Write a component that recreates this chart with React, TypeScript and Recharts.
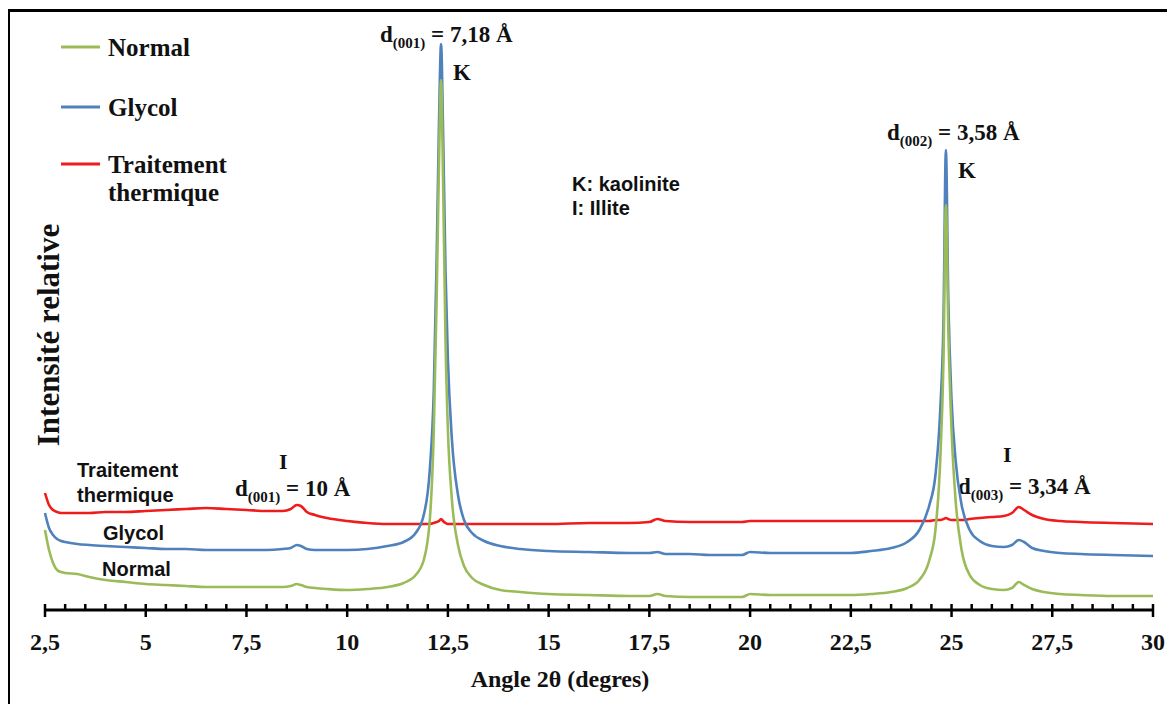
import React from 'react';
import { Customized, Line, LineChart, XAxis, YAxis } from 'recharts';

// angle 2θ (degrees), shared by all three patterns
const angles = [
    2.5, 2.6, 2.7, 2.8, 2.9, 3.0, 3.3, 3.6, 4.0, 4.5, 5.0, 5.5, 6.0, 6.5, 7.0, 7.5, 8.0, 8.4, 8.6, 8.75,
    8.85, 9.0, 9.2, 9.5, 10.0, 10.5, 11.0, 11.4, 11.7, 11.9, 12.05, 12.15, 12.22, 12.28, 12.33, 12.38, 12.44, 12.5,
    12.6, 12.75, 12.9, 13.1, 13.4, 13.8, 14.3, 15.0, 16.0, 17.0, 17.5, 17.7, 17.9, 18.5, 19.0, 19.5, 19.8, 20.0,
    20.5, 21.0, 21.5, 22.0, 22.5, 23.0, 23.5, 23.9, 24.2, 24.45, 24.6, 24.72, 24.8, 24.86, 24.92, 25.0, 25.1,
    25.25, 25.45, 25.7, 26.0, 26.3, 26.5, 26.67, 26.8, 27.0, 27.3, 27.7, 28.2, 29.0, 30.0,
];

const thermique = [
    117, 105, 100, 98, 97, 97, 97, 97, 98, 98, 99, 100, 101, 102, 101, 100, 99, 99, 101, 105,
    104, 98, 95, 92, 89, 87, 86, 86, 86, 86, 86, 87, 88, 89, 91, 89, 87, 86,
    86, 86, 86, 86, 86, 86, 86, 86, 87, 87, 88, 91, 89, 88, 88, 88, 88, 89,
    89, 89, 89, 89, 89, 89, 89, 89, 89, 89, 90, 90, 91, 92, 91, 90, 90,
    90, 91, 92, 93, 94, 97, 103, 100, 95, 91, 89, 88, 87, 86,
];

const glycol = [
    97, 82, 75, 71, 69, 68, 66, 65, 64, 63, 62, 61, 61, 60, 60, 60, 60, 61, 62, 65,
    64, 61, 60, 60, 60, 61, 64, 68, 77, 95, 140, 220, 350, 490, 566, 480, 340, 250,
    170, 115, 90, 77, 69, 64, 61, 59, 58, 57, 57, 58, 56, 56, 55, 55, 55, 58,
    57, 57, 57, 57, 57, 59, 62, 68, 80, 105, 135, 200, 290, 460, 310, 210, 150,
    105, 80, 69, 64, 63, 65, 70, 68, 62, 59, 57, 56, 55, 54,
];

const normal = [
    80, 60, 47, 40, 38, 37, 36, 33, 30, 28, 26, 25, 24, 23, 23, 23, 23, 23, 24, 26,
    25, 23, 22, 21, 20, 21, 23, 27, 35, 50, 90, 180, 310, 450, 530, 430, 270, 180,
    110, 65, 44, 32, 25, 20, 18, 16, 15, 14, 14, 16, 14, 13, 13, 13, 13, 16,
    15, 15, 15, 15, 15, 16, 18, 22, 30, 50, 80, 150, 250, 405, 280, 180, 110,
    60, 35, 25, 21, 20, 22, 28, 25, 21, 18, 16, 15, 14, 14,
];

const majorTicks = [2.5, 5, 7.5, 10, 12.5, 15, 17.5, 20, 22.5, 25, 27.5, 30];
// minor ticks every 0.5°
const allTicks = Array.from({ length: 56 }, (_, i) => 2.5 + i * 0.5);

const data = angles.map((a, i) => ({
    angle: a,
    normal: normal[i],
    glycol: glycol[i],
    thermique: thermique[i],
}));

const GREEN = '#9bbb59';
const BLUE = '#4f81bd';
const RED = '#ee1c1c';
const SERIF = '"Liberation Serif", "Times New Roman", serif';
const SANS = '"Liberation Sans", Arial, sans-serif';

const fmt = (v: number) => String(v).replace('.', ',');

const AxisTick = (props: any) => {
    const { x, y, payload } = props;
    const v = payload.value;
    const major = majorTicks.some(m => Math.abs(m - v) < 1e-6);
    return (
        <g>
            <line x1={x} x2={x} y1={y - 6} y2={major ? y + 7 : y} stroke="#000" strokeWidth={2.5} />
            {major && (
                <text x={x} y={y + 40} textAnchor="middle" fontFamily={SERIF} fontWeight="bold" fontSize={24} fill="#111">
                    {fmt(v)}
                </text>
            )}
        </g>
    );
};

// d-spacing label with subscript Miller index
const DLabel = ({ x, y, hkl, value, size = 23 }) => (
    <text x={x} y={y} fontFamily={SERIF} fontWeight="bold" fontSize={size} fill="#111">
        <tspan>d</tspan>
        <tspan fontSize={15} dy={6}>{`(${hkl})`}</tspan>
        <tspan dy={-6}>{` = ${value} Å`}</tspan>
    </text>
);

const Annotations = () => (
    <g>
        {/* legend */}
        <line x1={53} x2={92} y1={39} y2={39} stroke={GREEN} strokeWidth={3} />
        <line x1={53} x2={92} y1={99} y2={99} stroke={BLUE} strokeWidth={3} />
        <line x1={53} x2={92} y1={156} y2={156} stroke={RED} strokeWidth={3} />
        <g fontFamily={SERIF} fontWeight="bold" fontSize={25} fill="#111">
            <text x={100} y={48}>Normal</text>
            <text x={100} y={108}>Glycol</text>
            <text x={100} y={165}>Traitement</text>
            <text x={100} y={193}>thermique</text>
        </g>

        {/* y axis title */}
        <text x={51} y={327} transform="rotate(-90, 51, 327)" textAnchor="middle" fontFamily={SERIF} fontWeight="bold" fontSize={31} fill="#111">
            Intensité relative
        </text>

        {/* x axis title */}
        <text x={552} y={679} textAnchor="middle" fontFamily={SERIF} fontWeight="bold" fontSize={24} fill="#111">
            Angle 2θ (degres)
        </text>

        {/* peak labels */}
        <DLabel x={372} y={34} hkl="001" value="7,18" />
        <text x={445} y={72} fontFamily={SERIF} fontWeight="bold" fontSize={23} fill="#111">K</text>
        <DLabel x={879} y={132} hkl="002" value="3,58" />
        <text x={950} y={170} fontFamily={SERIF} fontWeight="bold" fontSize={23} fill="#111">K</text>
        <text x={271} y={461} fontFamily={SERIF} fontWeight="bold" fontSize={22} fill="#111">I</text>
        <DLabel x={227} y={488} hkl="001" value="10" />
        <text x={995} y={454} fontFamily={SERIF} fontWeight="bold" fontSize={22} fill="#111">I</text>
        <DLabel x={950} y={486} hkl="003" value="3,34" />

        {/* key and curve names */}
        <g fontFamily={SANS} fontWeight="bold" fontSize={20} fill="#111">
            <text x={564} y={183}>K: kaolinite</text>
            <text x={564} y={207}>I: Illite</text>
            <text x={69} y={469}>Traitement</text>
            <text x={69} y={494}>thermique</text>
            <text x={95} y={532}>Glycol</text>
            <text x={94} y={568}>Normal</text>
        </g>
    </g>
);

export default function App() {
    return (
        <div style={{ position: 'relative', width: 1167, height: 696 }}>
            <div
                style={{
                    position: 'absolute', top: 1, left: -1, right: 0, bottom: 0,
                    borderTop: '3px solid #000', borderLeft: '3px solid #000',
                }}
            />
            <LineChart width={1167} height={696} data={data} margin={{ top: 2, right: 22, left: 37, bottom: 0 }}>
                <XAxis
                    dataKey="angle"
                    type="number"
                    domain={[2.5, 30]}
                    ticks={allTicks}
                    interval={0}
                    tick={<AxisTick />}
                    tickLine={false}
                    tickSize={0}
                    tickMargin={0}
                    height={94}
                    axisLine={{ stroke: '#000', strokeWidth: 3 }}
                />
                <YAxis hide domain={[0, 600]} />
                <Line type="monotone" dataKey="thermique" stroke={RED} strokeWidth={2.6} dot={false} isAnimationActive={false} />
                <Line type="monotone" dataKey="glycol" stroke={BLUE} strokeWidth={2.6} dot={false} isAnimationActive={false} />
                <Line type="monotone" dataKey="normal" stroke={GREEN} strokeWidth={2.6} dot={false} isAnimationActive={false} />
                <Customized component={Annotations} />
            </LineChart>
        </div>
    );
}
